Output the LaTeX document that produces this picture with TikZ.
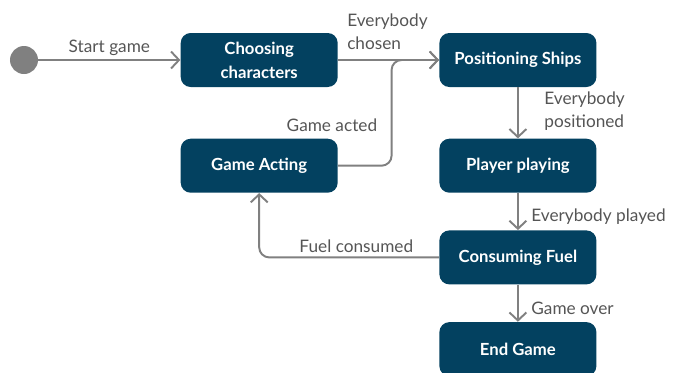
\documentclass[tikz,border=0pt]{standalone}
\usepackage{fontspec}
\setmainfont{Lato}
\usetikzlibrary{positioning,arrows.meta,calc}

\definecolor{boxblue}{RGB}{3,65,96}
\definecolor{linegray}{RGB}{128,128,128}
\definecolor{labelgray}{RGB}{85,85,85}

\tikzset{
    state/.style={rectangle, rounded corners=0.2cm, fill=boxblue, text=white, minimum width=3.14cm, minimum height=1.08cm, align=center, font=\fontsize{9.5}{13.5}\selectfont\bfseries},
    flow/.style={draw=linegray, line width=1.1pt, -{Straight Barb[length=1.6mm,width=3.4mm]}},
    lbl/.style={text=labelgray, font=\fontsize{9.8}{13}\selectfont, inner sep=2pt}
}

\begin{document}
\begin{tikzpicture}[node distance=2cm]
    \useasboundingbox (0,0) rectangle (13.56,-7.44);

        % Nodes
    \node (start) [circle, fill=linegray, minimum size=0.56cm, inner sep=0pt] at (0.48,-1.2) {};
    \node (choosing) [state, right=2.84cm of start] {Choosing\\characters};
    \node (positioning) [state, right=2.02cm of choosing] {Positioning Ships};
    \node (playing) [state, below=1.02cm of positioning] {Player playing};
    \node (acting) [state, left=2.02cm of playing] {Game Acting};
    \node (fuel) [state, below=0.74cm of playing] {Consuming Fuel};
    \node (endgame) [state, below=0.74cm of fuel] {End Game};

    \coordinate (merge) at ($(choosing.east)!0.53!(positioning.west)$);

        % Arrows
    \draw [flow] (start) -- node (startlbl) [lbl, above] {Start game} (choosing);
    \draw [flow] (choosing) -- node (chosenlbl) [lbl, above, align=left, pos=0.38, xshift=0.22cm, yshift=0.12cm] {Everybody\\chosen} (positioning);
    \draw [flow, rounded corners=0.2cm] (acting.east) -| node (actedlbl) [lbl, left, pos=0.69, xshift=-0.2cm] {Game acted} (merge) -- (positioning.west);
    \draw [flow] (positioning) -- node (positionedlbl) [lbl, right, align=left, xshift=0.44cm, yshift=0.04cm] {Everybody\\positioned} (playing);
    \draw [flow] (playing) -- node (playedlbl) [lbl, right, xshift=0.18cm, yshift=-0.1cm] {Everybody played} (fuel);
    \draw [flow, rounded corners=0.2cm] (fuel.west) -| node (consumedlbl) [lbl, above, pos=0.23] {Fuel consumed} (acting.south);
    \draw [flow] (fuel) -- node (overlbl) [lbl, right, xshift=0.18cm, yshift=-0.1cm] {Game over} (endgame);

        \end{tikzpicture}
\end{document}
